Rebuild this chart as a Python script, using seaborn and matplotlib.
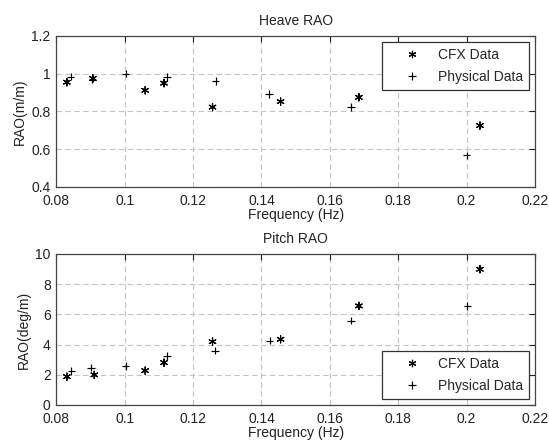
import matplotlib
matplotlib.use("Agg")
import matplotlib.pyplot as plt
import numpy as np
import pandas as pd
import seaborn as sns

# Heave RAO
heave_cfx_freq = [0.0831, 0.0907, 0.1060, 0.1115, 0.1257, 0.1456, 0.1685, 0.2039]
heave_cfx_rao = [0.955, 0.975, 0.912, 0.950, 0.823, 0.852, 0.875, 0.725]
heave_phys_freq = [0.0842, 0.0905, 0.1003, 0.1124, 0.1266, 0.1422, 0.1662, 0.2000]
heave_phys_rao = [0.985, 0.968, 1.000, 0.982, 0.962, 0.892, 0.823, 0.568]

# Pitch RAO
pitch_cfx_freq = [0.0831, 0.0911, 0.1060, 0.1115, 0.1257, 0.1456, 0.1685, 0.2039]
pitch_cfx_rao = [1.87, 1.99, 2.27, 2.80, 4.19, 4.35, 6.56, 8.99]
pitch_phys_freq = [0.0844, 0.0902, 0.1003, 0.1124, 0.1264, 0.1424, 0.1662, 0.2002]
pitch_phys_rao = [2.25, 2.47, 2.58, 3.24, 3.60, 4.26, 5.58, 6.56]

series_names = ["CFX Data", "Physical Data"]
freq_ticks = ["0.08", "0.1", "0.12", "0.14", "0.16", "0.18", "0.2", "0.22"]
heave_ticks = ["0.4", "0.6", "0.8", "1", "1.2"]
pitch_ticks = ["0", "2", "4", "6", "8", "10"]


def make_df(cfx_x, cfx_y, phys_x, phys_y):
    return pd.DataFrame({
        "freq": list(cfx_x) + list(phys_x),
        "rao": list(cfx_y) + list(phys_y),
        "series": [series_names[0]] * len(cfx_x) + [series_names[1]] * len(phys_x),
    })


sns.set_style("white")
plt.rcParams["font.family"] = ["Liberation Sans", "DejaVu Sans"]
plt.rcParams["xtick.direction"] = "in"
plt.rcParams["ytick.direction"] = "in"

fig = plt.figure(figsize=(5.49, 4.44), dpi=100)
ax1 = fig.add_axes([0.1025, 0.579, 0.872, 0.340])
ax2 = fig.add_axes([0.1025, 0.088, 0.872, 0.340])

markers = {"CFX Data": (6, 2, 0), "Physical Data": "+"}
palette = {"CFX Data": "black", "Physical Data": "black"}
text_color = "#222222"

panels = [
    (ax1, make_df(heave_cfx_freq, heave_cfx_rao, heave_phys_freq, heave_phys_rao),
     "Heave RAO", "RAO(m/m)", (0.4, 1.2), heave_ticks, "upper right"),
    (ax2, make_df(pitch_cfx_freq, pitch_cfx_rao, pitch_phys_freq, pitch_phys_rao),
     "Pitch RAO", "RAO(deg/m)", (0, 10), pitch_ticks, "lower right"),
]

for ax, df, title, ylabel, ylim, yticks, loc in panels:
    sns.scatterplot(data=df, x="freq", y="rao", hue="series", style="series",
                    markers=markers, palette=palette, s=28, linewidth=0.85,
                    ax=ax, zorder=3)
    ax.set_xlim(0.08, 0.22)
    ax.set_ylim(*ylim)
    ax.set_xticks(np.linspace(0.08, 0.22, len(freq_ticks)))
    ax.set_xticklabels(freq_ticks)
    ax.set_yticks(np.linspace(ylim[0], ylim[1], len(yticks)))
    ax.set_yticklabels(yticks)
    ax.grid(True, linestyle=(0, (5, 3)), color="#c4c4c4", linewidth=0.8)
    ax.tick_params(axis="both", labelsize=10, colors=text_color, length=4,
                   top=True, right=True, width=0.8, pad=4)
    ax.tick_params(axis="x", pad=5)
    for sp in ax.spines.values():
        sp.set_color("#444444")
        sp.set_linewidth(0.9)
    ax.set_title(title, fontsize=10, color=text_color, pad=8)
    ax.set_xlabel("Frequency (Hz)", fontsize=10, color=text_color, labelpad=0)
    ax.set_ylabel(ylabel, fontsize=10, color=text_color, labelpad=3)
    leg = ax.legend(loc=loc, fontsize=10, frameon=True, fancybox=False,
                    edgecolor="#333333", framealpha=1, borderaxespad=0.4,
                    handlelength=3.4, handletextpad=0.2, borderpad=0.45,
                    labelspacing=0.6)
    leg.get_frame().set_linewidth(0.9)

fig.savefig("out.png", dpi=100)
